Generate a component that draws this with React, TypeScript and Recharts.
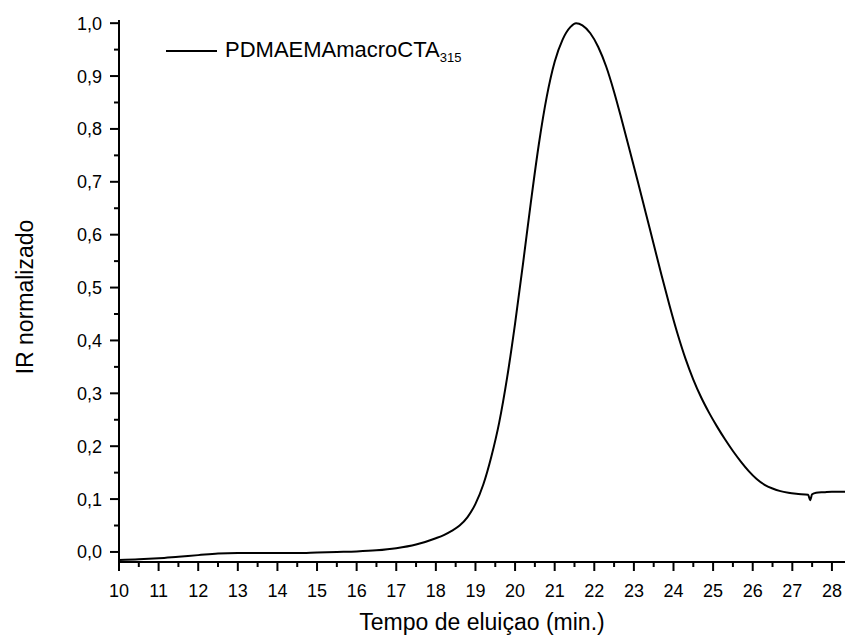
import { LineChart, Line, XAxis, YAxis, Label } from "recharts"

// elution time (min) and normalized IR signal
const elutionTime = [
  10.0, 10.5, 11.0, 11.5, 12.0, 12.5, 13.0, 13.5, 14.0, 14.5, 15.0, 15.5, 16.0, 16.5, 17.0,
  17.5, 18.0, 18.2, 18.4, 18.6, 18.8, 19.0, 19.2, 19.4, 19.6, 19.8, 20.0, 20.2, 20.4, 20.6,
  20.8, 21.0, 21.2, 21.4, 21.54, 21.7, 21.9, 22.1, 22.3, 22.5, 22.7, 22.9, 23.1, 23.3, 23.5,
  23.7, 23.9, 24.1, 24.3, 24.5, 24.7, 24.9, 25.1, 25.3, 25.5, 25.7, 25.9, 26.1, 26.3, 26.5,
  26.7, 26.9, 27.1, 27.4, 27.45, 27.5, 27.6, 27.8, 28.0, 28.33,
]
const irSignal = [
  -0.015, -0.014, -0.012, -0.009, -0.006, -0.003, -0.002, -0.002, -0.002, -0.002, -0.001, 0.0,
  0.001, 0.003, 0.007, 0.014, 0.026, 0.032, 0.04, 0.05, 0.066, 0.091, 0.128, 0.18, 0.245,
  0.33, 0.432, 0.545, 0.662, 0.771, 0.861, 0.927, 0.969, 0.993, 1.0, 0.996, 0.981, 0.955,
  0.918, 0.87, 0.815, 0.758, 0.7, 0.641, 0.582, 0.523, 0.466, 0.413, 0.366, 0.326, 0.292,
  0.263, 0.237, 0.213, 0.191, 0.171, 0.153, 0.138, 0.127, 0.12, 0.115, 0.112, 0.11, 0.108,
  0.098, 0.109, 0.112, 0.113, 0.114, 0.114,
]

const xMajorTicks = [10, 11, 12, 13, 14, 15, 16, 17, 18, 19, 20, 21, 22, 23, 24, 25, 26, 27, 28]
const yMajorTicks = [0, 0.1, 0.2, 0.3, 0.4, 0.5, 0.6, 0.7, 0.8, 0.9, 1.0]
const seriesName = "PDMAEMAmacroCTA"
const seriesSub = "315"

const data = elutionTime.map((t, i) => ({ t, ir: irSignal[i] }))
const xTicks = xMajorTicks.flatMap((v) => (v < 28 ? [v, v + 0.5] : [v]))
const yTicks = yMajorTicks.flatMap((v) => (v < 1 ? [v, Math.round((v + 0.05) * 100) / 100] : [v]))

const FONT = "'Liberation Sans', Arial, sans-serif"

const XTick = ({ x, y, payload }: any) => {
  const major = Number.isInteger(payload.value)
  return (
    <g>
      <line x1={x} x2={x} y1={y} y2={y + (major ? 9 : 5)} stroke="#000" strokeWidth={2} />
      {major && (
        <text x={x} y={y + 35} textAnchor="middle" fontSize={18} fontFamily={FONT} fill="#000">
          {payload.value}
        </text>
      )}
    </g>
  )
}

const YTick = ({ x, y, payload }: any) => {
  const major = Math.abs(payload.value * 10 - Math.round(payload.value * 10)) < 1e-6
  return (
    <g>
      <line x1={x} x2={x - (major ? 9 : 5)} y1={y} y2={y} stroke="#000" strokeWidth={2} />
      {major && (
        <text x={x - 17} y={y} dy="0.36em" textAnchor="end" fontSize={18} fontFamily={FONT} fill="#000">
          {payload.value.toFixed(1).replace(".", ",")}
        </text>
      )}
    </g>
  )
}

const YTitle = ({ viewBox }: any) => {
  const cx = 25
  const cy = viewBox.y + viewBox.height / 2 + 6
  return (
    <text x={cx} y={cy} transform={`rotate(-90 ${cx} ${cy})`} textAnchor="middle" dominantBaseline="central" fontSize={23} fontFamily={FONT} fill="#000">
      IR normalizado
    </text>
  )
}

const XTitle = ({ viewBox }: any) => (
  <text x={viewBox.x + viewBox.width / 2} y={630} textAnchor="middle" fontSize={23} fontFamily={FONT} fill="#000">
    Tempo de eluiçao (min.)
  </text>
)

export default function App() {
  return (
    <div style={{ position: "absolute", left: 0, top: 0, width: 845, height: 640, background: "#fff" }}>
      <LineChart width={845} height={640} data={data} margin={{ top: 20, right: 0, bottom: 0, left: 0 }}>
        <XAxis
          dataKey="t"
          type="number"
          domain={[10, 28.33]}
          ticks={xTicks}
          interval={0}
          tickSize={0}
          tickMargin={0}
          tick={<XTick />}
          height={78}
          axisLine={{ stroke: "#000", strokeWidth: 2 }}
          allowDataOverflow
        >
          <Label content={<XTitle />} />
        </XAxis>
        <YAxis
          type="number"
          domain={[-0.019, 1.006]}
          ticks={yTicks}
          interval={0}
          tickSize={0}
          tickMargin={0}
          tick={<YTick />}
          width={119}
          axisLine={{ stroke: "#000", strokeWidth: 2 }}
          allowDataOverflow
        >
          <Label content={<YTitle />} />
        </YAxis>
        <Line
          dataKey="ir"
          type="monotone"
          stroke="#000"
          strokeWidth={2}
          dot={false}
          isAnimationActive={false}
        />
      </LineChart>
      <div
        style={{
          position: "absolute",
          left: 166,
          top: 37,
          display: "flex",
          alignItems: "center",
          fontFamily: FONT,
          fontSize: 22,
          color: "#000",
          whiteSpace: "nowrap",
        }}
      >
        <div style={{ width: 51, height: 0, borderTop: "2px solid #000", marginRight: 8 }} />
        <span>
          {seriesName}
          <sub style={{ fontSize: 13 }}>{seriesSub}</sub>
        </span>
      </div>
    </div>
  )
}
